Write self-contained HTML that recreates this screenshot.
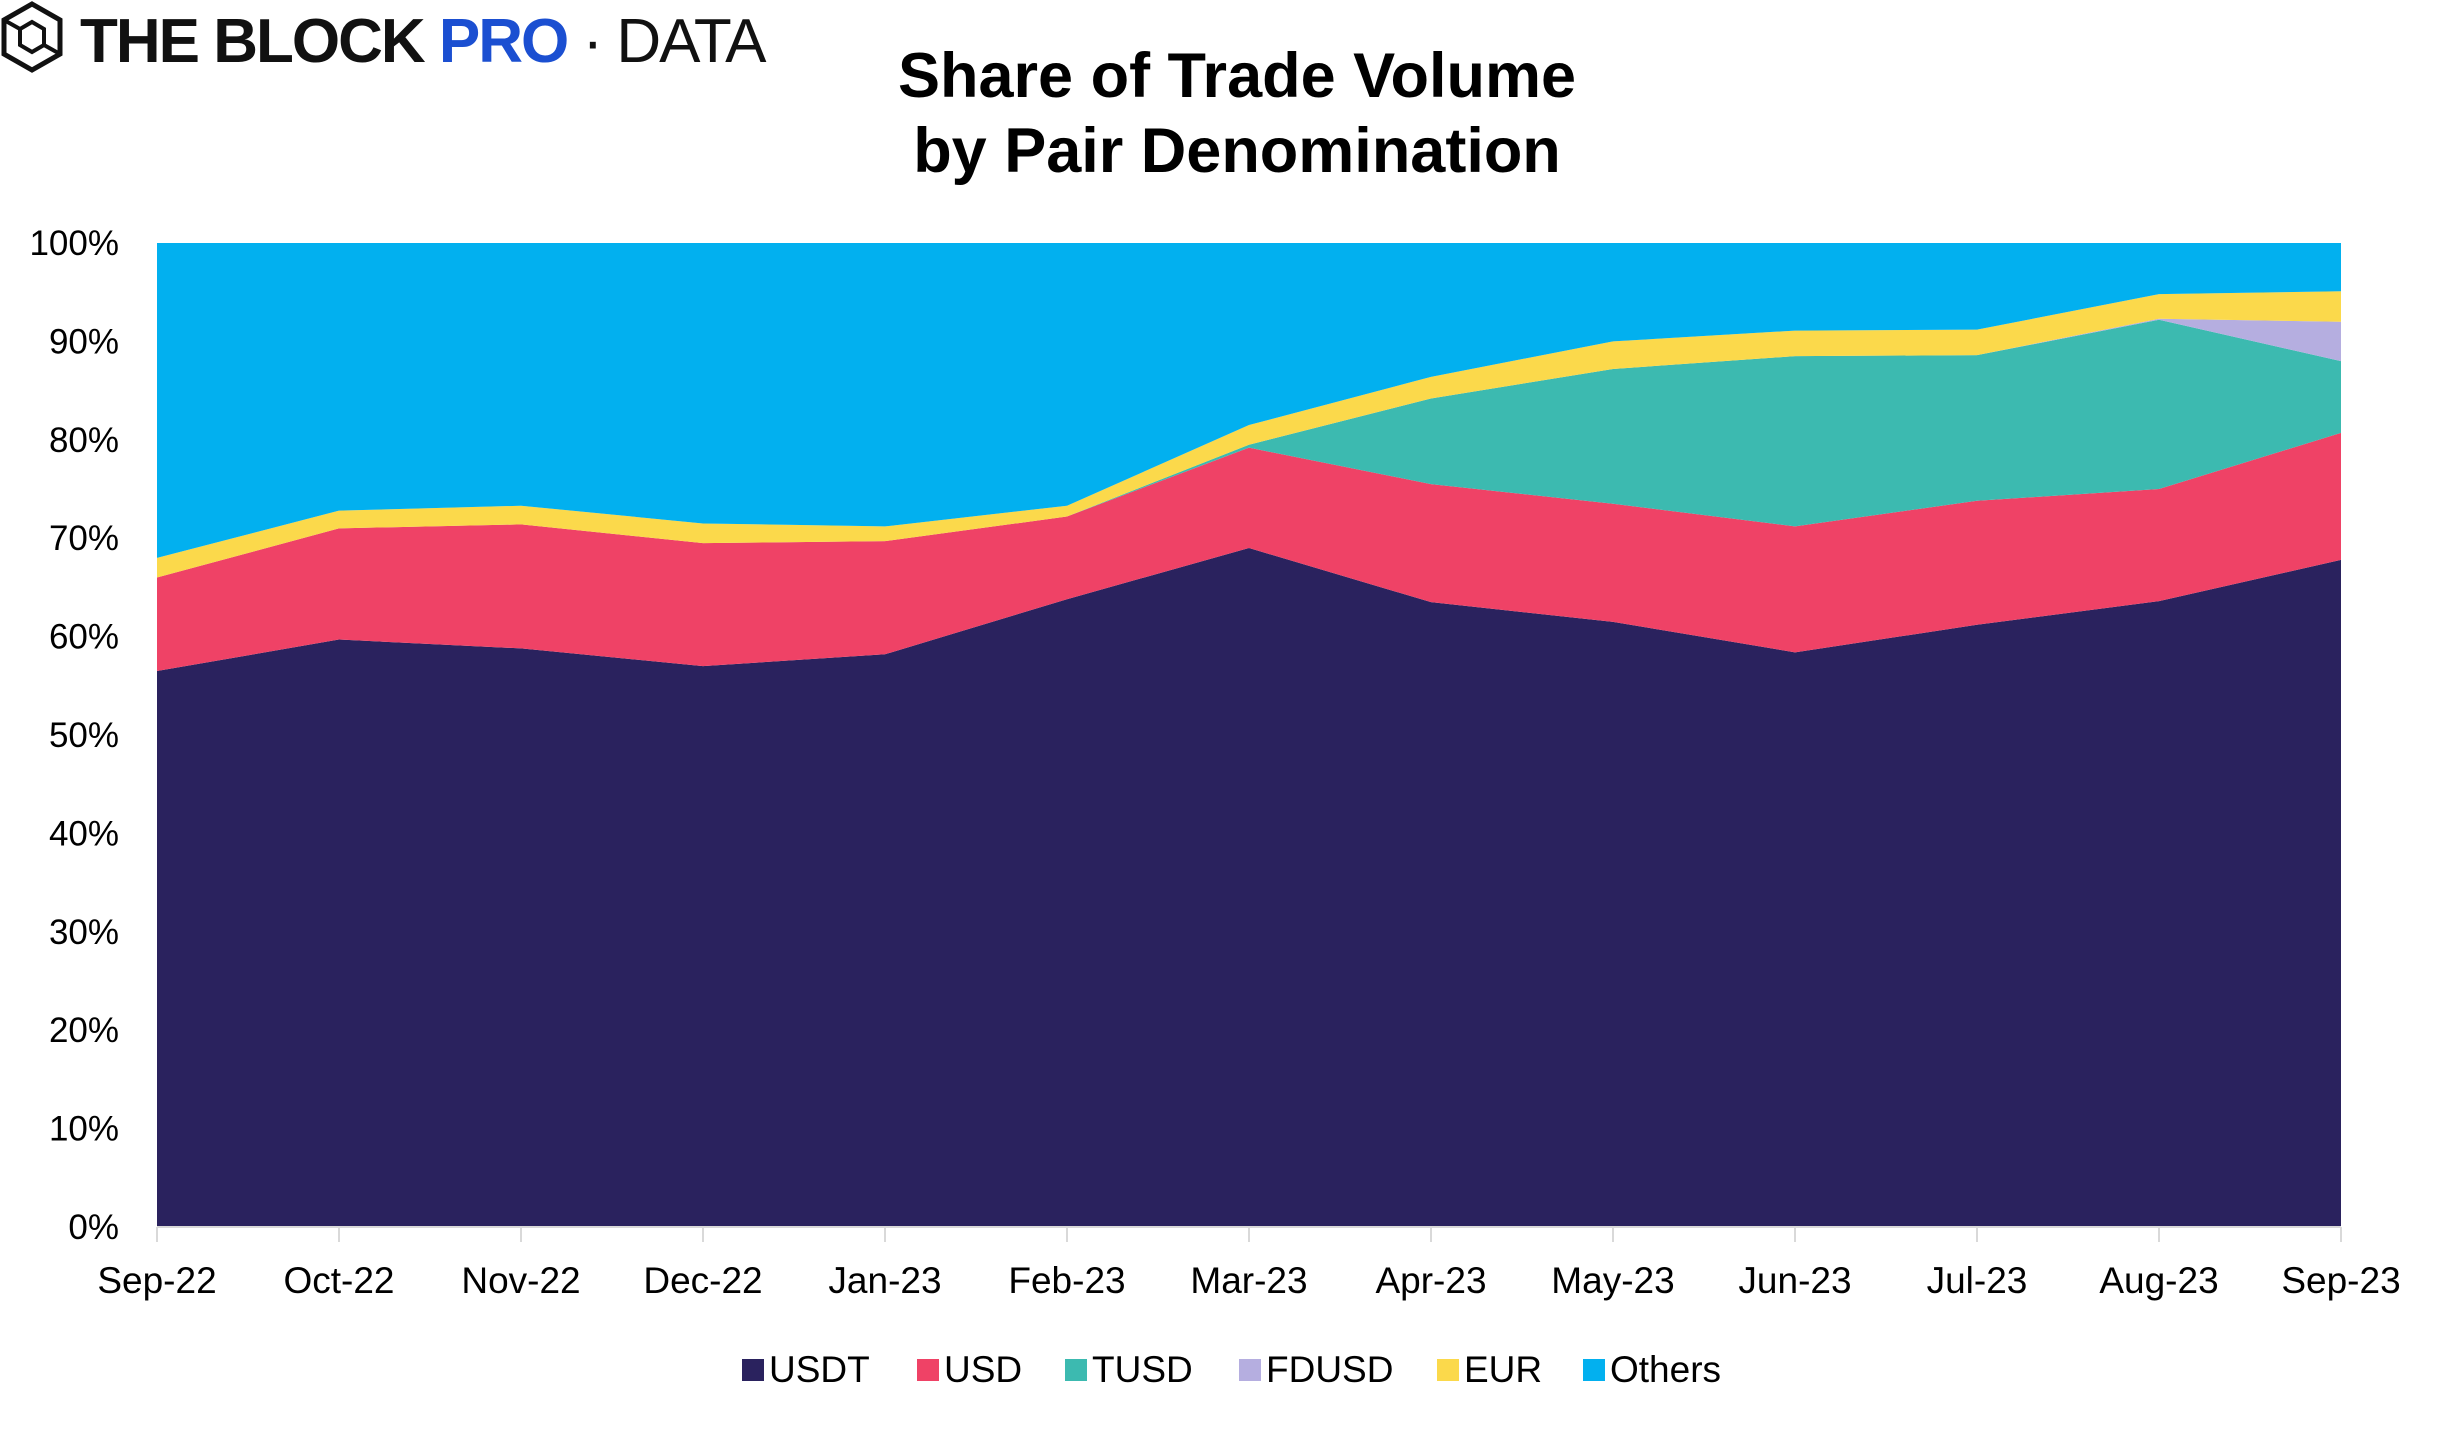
<!DOCTYPE html>
<html><head><meta charset="utf-8"><style>
html,body{margin:0;padding:0;background:#fff;}
body{width:2452px;height:1439px;overflow:hidden;font-family:"Liberation Sans",sans-serif;}
</style></head><body>
<svg id="chart" width="2452" height="1439" xmlns="http://www.w3.org/2000/svg">
<g>
<polygon points="32,4 60,20 60,54 32,70 4,54 4,20" fill="none" stroke="#111" stroke-width="5"/>
<polygon points="32,22 44,29 44,45 32,52 20,45 20,29" fill="none" stroke="#111" stroke-width="4"/>
<line x1="4" y1="20" x2="20" y2="29" stroke="#111" stroke-width="4"/><line x1="60" y1="54" x2="44" y2="45" stroke="#111" stroke-width="4"/>
<text x="80" y="62" font-size="62" font-weight="bold" fill="#111" letter-spacing="-2">THE BLOCK <tspan fill="#1b4fd1">PRO</tspan><tspan font-weight="normal"> · DATA</tspan></text>
</g>
<text x="1237" y="97" text-anchor="middle" font-size="63" font-weight="bold" letter-spacing="0">Share of Trade Volume</text>
<text x="1237" y="172" text-anchor="middle" font-size="63" font-weight="bold" letter-spacing="0">by Pair Denomination</text>
<g id="areas"></g><g id="axes"></g><g id="legend"></g>
</svg>
<script>
const categories=["Sep-22","Oct-22","Nov-22","Dec-22","Jan-23","Feb-23","Mar-23","Apr-23","May-23","Jun-23","Jul-23","Aug-23","Sep-23"];
const usdt=[56.5,59.7,58.8,57,58.2,63.8,69,63.5,61.5,58.4,61.2,63.6,67.8];
const usd=[9.5,11.3,12.6,12.5,11.5,8.4,10.2,12,12,12.8,12.6,11.4,12.9];
const tusd=[0,0,0,0,0,0,0.3,8.7,13.7,17.3,14.8,17.2,7.3];
const fdusd=[0,0,0,0,0,0,0,0,0,0,0,0.1,4.0];
const eur=[2,1.8,1.9,2,1.5,1.1,2,2.2,2.8,2.6,2.6,2.5,3.1];
const others=categories.map((c,i)=>100-usdt[i]-usd[i]-tusd[i]-fdusd[i]-eur[i]);
const seriesNames=["USDT","USD","TUSD","FDUSD","EUR","Others"];
const yTicks=[0,10,20,30,40,50,60,70,80,90,100];
const colors=["#2a225e","#ef4266","#3cbab0","#b5aee0","#fbd94b","#02b0ef"];
const series=[usdt,usd,tusd,fdusd,eur,others];
const L=157,R=2341,T=243,B=1227;
const x=i=>L+(R-L)*i/(categories.length-1);
const y=v=>B-(B-T)*v/100;
const NS="http://www.w3.org/2000/svg";
const areas=document.getElementById('areas'),axes=document.getElementById('axes'),legend=document.getElementById('legend');
let base=categories.map(()=>0);
series.forEach((s,k)=>{
  const top=base.map((b,i)=>b+s[i]);
  let pts=top.map((v,i)=>x(i)+","+y(v));
  for(let i=categories.length-1;i>=0;i--)pts.push(x(i)+","+y(base[i]));
  const p=document.createElementNS(NS,'polygon');
  p.setAttribute('points',pts.join(' '));p.setAttribute('fill',colors[k]);
  
  
  areas.appendChild(p);base=top;
});
yTicks.forEach(t=>{
  const tx=document.createElementNS(NS,'text');
  tx.setAttribute('x',119);tx.setAttribute('y',y(t)+12);tx.setAttribute('text-anchor','end');
  tx.setAttribute('font-size','35');tx.textContent=t+'%';
  
  
  axes.appendChild(tx);
});
const ax=document.createElementNS(NS,'line');
ax.setAttribute('x1',L);ax.setAttribute('x2',R);ax.setAttribute('y1',B);ax.setAttribute('y2',B);ax.setAttribute('stroke','#d9d9d9');ax.setAttribute('stroke-width','2');


axes.appendChild(ax);
categories.forEach((c,i)=>{
  const tk=document.createElementNS(NS,'line');
  tk.setAttribute('x1',x(i));tk.setAttribute('x2',x(i));tk.setAttribute('y1',B);tk.setAttribute('y2',B+15);tk.setAttribute('stroke','#d9d9d9');tk.setAttribute('stroke-width','2');
  
  
  axes.appendChild(tk);
  const tx=document.createElementNS(NS,'text');
  tx.setAttribute('x',x(i));tx.setAttribute('y',1293);tx.setAttribute('text-anchor','middle');tx.setAttribute('font-size','37');
  tx.textContent=c;
  
  
  axes.appendChild(tx);
});
const legX=[742,917,1065,1239,1437,1583];
seriesNames.forEach((n,k)=>{
  const g=document.createElementNS(NS,'g');
  
  
  const r=document.createElementNS(NS,'rect');
  r.setAttribute('x',legX[k]);r.setAttribute('y',1359);r.setAttribute('width',22);r.setAttribute('height',22);r.setAttribute('fill',colors[k]);
  g.appendChild(r);
  const t=document.createElementNS(NS,'text');
  t.setAttribute('x',legX[k]+27);t.setAttribute('y',1382);t.setAttribute('font-size','37');t.textContent=n;
  g.appendChild(t);legend.appendChild(g);
});
</script>
</body></html>
